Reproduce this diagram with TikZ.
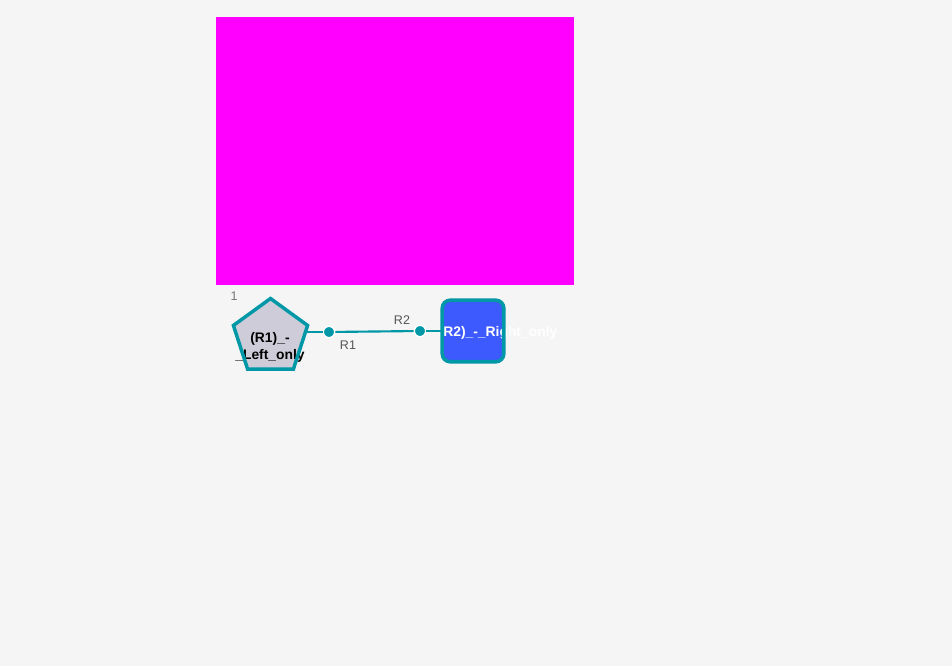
\documentclass[tikz,border=0pt]{standalone}
\usepackage{fontspec}
\setmainfont{Liberation Sans}
\usetikzlibrary{shapes.geometric}
\definecolor{bggray}{HTML}{F5F5F5}
\definecolor{blockmag}{HTML}{FF00FF}
\definecolor{linkteal}{HTML}{0097A7}
\definecolor{pentgray}{HTML}{CDCCD8}
\definecolor{boxblue}{HTML}{3D5AFE}
\definecolor{labgray}{HTML}{555555}

\begin{document}
\begin{tikzpicture}[x=0.75pt, y=-0.75pt,
    link/.style={draw=linkteal, line width=1.6pt},
    port/.style={circle, fill=linkteal, draw=white, line width=1.1pt, inner sep=0pt, minimum size=8.6pt},
    edgelab/.style={text=labgray, font=\fontsize{9.4}{11}\selectfont, inner sep=0pt},
    boxtext/.style={font=\fontsize{10.4}{12.5}\selectfont\bfseries, inner sep=0pt, align=center},
    pent/.style={regular polygon, regular polygon sides=5, minimum size=58pt, inner sep=0pt, fill=pentgray},
    rbox/.style={rectangle, rounded corners=6pt, minimum size=45.75pt, inner sep=0pt, fill=boxblue},
    rim/.style={draw=linkteal, line width=#1}]
        \fill[bggray] (0,0) rectangle (952,666);
        \useasboundingbox (0,0) rectangle (952,666);
        \fill[blockmag] (216,17) rectangle (574,285);
        \node[edgelab, text=labgray!80] (n1) at (234,296) {1};
        \node[pent] (p1) at (270.5,337.5) {};
        \node[boxtext] (t1) at (270,347.5) {(R1)\_-\\\_Left\_only};
        \draw[rim=2.6pt] (p1.corner 1) -- (p1.corner 2) -- (p1.corner 3) -- (p1.corner 4) -- (p1.corner 5) -- cycle;
        \node[rbox] (r2) at (473,331) {};
        \node[boxtext, text=white] (t2) at (498,333) {(R2)\_-\_Right\_only};
        \draw[rim=2.7pt, rounded corners=6pt] (r2.north west) rectangle (r2.south east);
        \node[port] (d1) at (329,332) {};
        \node[port] (d2) at (420,331) {};
        \draw[link] (p1.east |- d1) -- (d1);
        \draw[link] (d1) -- (d2);
        \draw[link] (d2) -- (r2);
        \node[edgelab] (l1) at (348,345) {R1};
        \node[edgelab] (l2) at (402,320) {R2};
      \end{tikzpicture}
\end{document}
